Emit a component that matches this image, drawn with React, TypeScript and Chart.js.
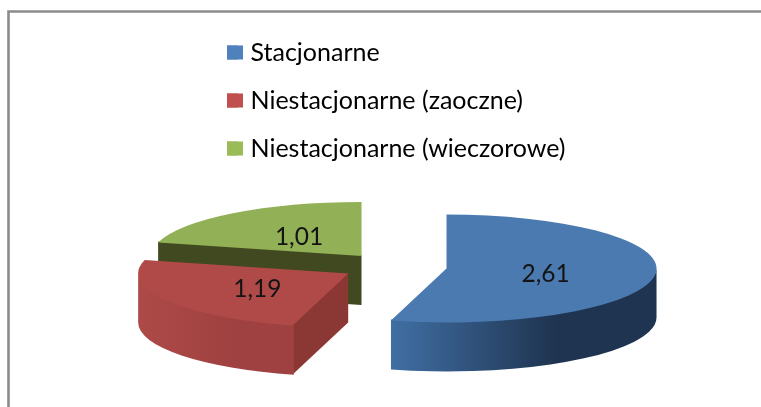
import { useEffect, useRef } from "react";
import { Chart, registerables } from "chart.js";

Chart.register(...registerables);

const categories = ["Stacjonarne", "Niestacjonarne (zaoczne)", "Niestacjonarne (wieczorowe)"];
const values = [2.61, 1.19, 1.01];
const topColors = ["#4a7ab0", "#b04a48", "#92b056"];
const legendColors = ["#4f81bd", "#c0504d", "#9bbb59"];
const rimStops = [
  ["#406fa4", "#1f3450"],
  ["#ad4a48", "#9f4140"],
  ["#40491f", "#40491f"],
];
const faceColors = ["#2c4a70", "#8b3835", "#40491f"];
const drawOrder = [2, 1, 0];
const labelRadii = [100, 105, 102];

const CX = 394;
const CY = 266.7;
const RADIUS = 210;
const SQUASH = 0.257;
const DEPTH = 49;
const EXPLODE = 53;
const FONT = "Lato, 'Open Sans', sans-serif";

const pie3d = {
  id: "pie3d",
  beforeDraw(chart: any) {
    const { ctx, width, height } = chart;
    ctx.save();
    ctx.fillStyle = "#ffffff";
    ctx.fillRect(0, 0, width, height);
    ctx.strokeStyle = "#8c8c8c";
    ctx.lineWidth = 2.6;
    ctx.beginPath();
    ctx.moveTo(width, 11.5);
    ctx.lineTo(8.5, 11.5);
    ctx.lineTo(8.5, height);
    ctx.stroke();
    ctx.restore();
  },
  beforeDatasetDraw() {
    return false;
  },
  afterDatasetsDraw(chart: any) {
    const { ctx } = chart;
    const arcs = chart.getDatasetMeta(0).data;
    const centre = (el: any) => {
      const mid = (el.startAngle + el.endAngle) / 2;
      return {
        mid,
        x: CX + Math.cos(mid) * EXPLODE,
        y: CY + Math.sin(mid) * EXPLODE * SQUASH,
      };
    };
    for (const i of drawOrder) {
      const el = arcs[i];
      const c = centre(el);
      const ry = RADIUS * SQUASH;
      const wall = (a: number) => {
        const px = c.x + Math.cos(a) * RADIUS;
        const py = c.y + Math.sin(a) * ry;
        ctx.fillStyle = faceColors[i];
        ctx.beginPath();
        ctx.moveTo(c.x, c.y - 1);
        ctx.lineTo(px, py - 1);
        ctx.lineTo(px, py + DEPTH);
        ctx.lineTo(c.x, c.y + DEPTH);
        ctx.closePath();
        ctx.fill();
      };
      const startFace = Math.cos(el.startAngle) < -1e-6;
      if (startFace) wall(el.startAngle);
      if (Math.cos(el.endAngle) > 1e-6) wall(el.endAngle);
      const a0 = Math.max(el.startAngle, 0) - (startFace ? 0.006 : 0);
      const a1 = Math.min(el.endAngle, Math.PI);
      if (a1 > a0) {
        const xa = c.x + Math.cos(a1) * RADIUS;
        const xb = c.x + Math.cos(a0) * RADIUS;
        const grad = ctx.createLinearGradient(xa, 0, xa + (xb - xa) * 0.62, 0);
        grad.addColorStop(0, rimStops[i][0]);
        grad.addColorStop(1, rimStops[i][1]);
        ctx.fillStyle = grad;
        ctx.beginPath();
        ctx.ellipse(c.x, c.y - 1, RADIUS, ry, 0, a0, a1);
        ctx.ellipse(c.x, c.y + DEPTH, RADIUS, ry, 0, a1, a0, true);
        ctx.closePath();
        ctx.fill();
      }
      ctx.save();
      ctx.translate(c.x, c.y);
      ctx.scale(1, SQUASH);
      ctx.translate(-el.x, -el.y);
      el.draw(ctx);
      ctx.restore();
    }
    ctx.save();
    ctx.fillStyle = "#141414";
    ctx.font = `24.5px ${FONT}`;
    ctx.textAlign = "center";
    ctx.textBaseline = "middle";
    arcs.forEach((el: any, i: number) => {
      const c = centre(el);
      ctx.fillText(
        values[i].toFixed(2).replace(".", ","),
        c.x + Math.cos(c.mid) * labelRadii[i],
        c.y + Math.sin(c.mid) * labelRadii[i] * SQUASH + 2,
      );
    });
    // The reference swatches are wider than the legend's label gap allows.
    chart.legend.legendHitBoxes.forEach((hit: any, i: number) => {
      ctx.fillStyle = legendColors[i];
      ctx.fillRect(hit.left, hit.top + (hit.height - 14) / 2, 16, 14);
    });
    ctx.restore();
  },
};

export default function App() {
  const ref = useRef<HTMLCanvasElement | null>(null);
  useEffect(() => {
    const chart = new Chart(ref.current as HTMLCanvasElement, {
      type: "pie",
      data: {
        labels: categories,
        datasets: [{ data: values, backgroundColor: topColors, borderWidth: 0, clip: false } as any],
      },
      options: {
        responsive: false,
        animation: false,
        radius: RADIUS,
        layout: { padding: { left: 204, top: 17, right: 0, bottom: 0 } },
        plugins: {
          tooltip: { enabled: false },
          legend: {
            position: "left",
            align: "start",
            maxWidth: 420,
            labels: {
              padding: 23,
              boxWidth: 11,
              boxHeight: 14,
              color: "#1a1a1a",
              font: { family: FONT, size: 25 },
              generateLabels: () =>
                categories.map((text, i) => ({
                  text,
                  fillStyle: legendColors[i],
                  strokeStyle: legendColors[i],
                  lineWidth: 0,
                  hidden: false,
                  index: i,
                })),
            },
          },
        },
      } as any,
      plugins: [pie3d],
    });
    return () => chart.destroy();
  }, []);
  return (
    <canvas
      ref={ref}
      width={761}
      height={407}
      style={{ position: "fixed", left: 0, top: 0, width: 761, height: 407, display: "block" }}
    />
  );
}
